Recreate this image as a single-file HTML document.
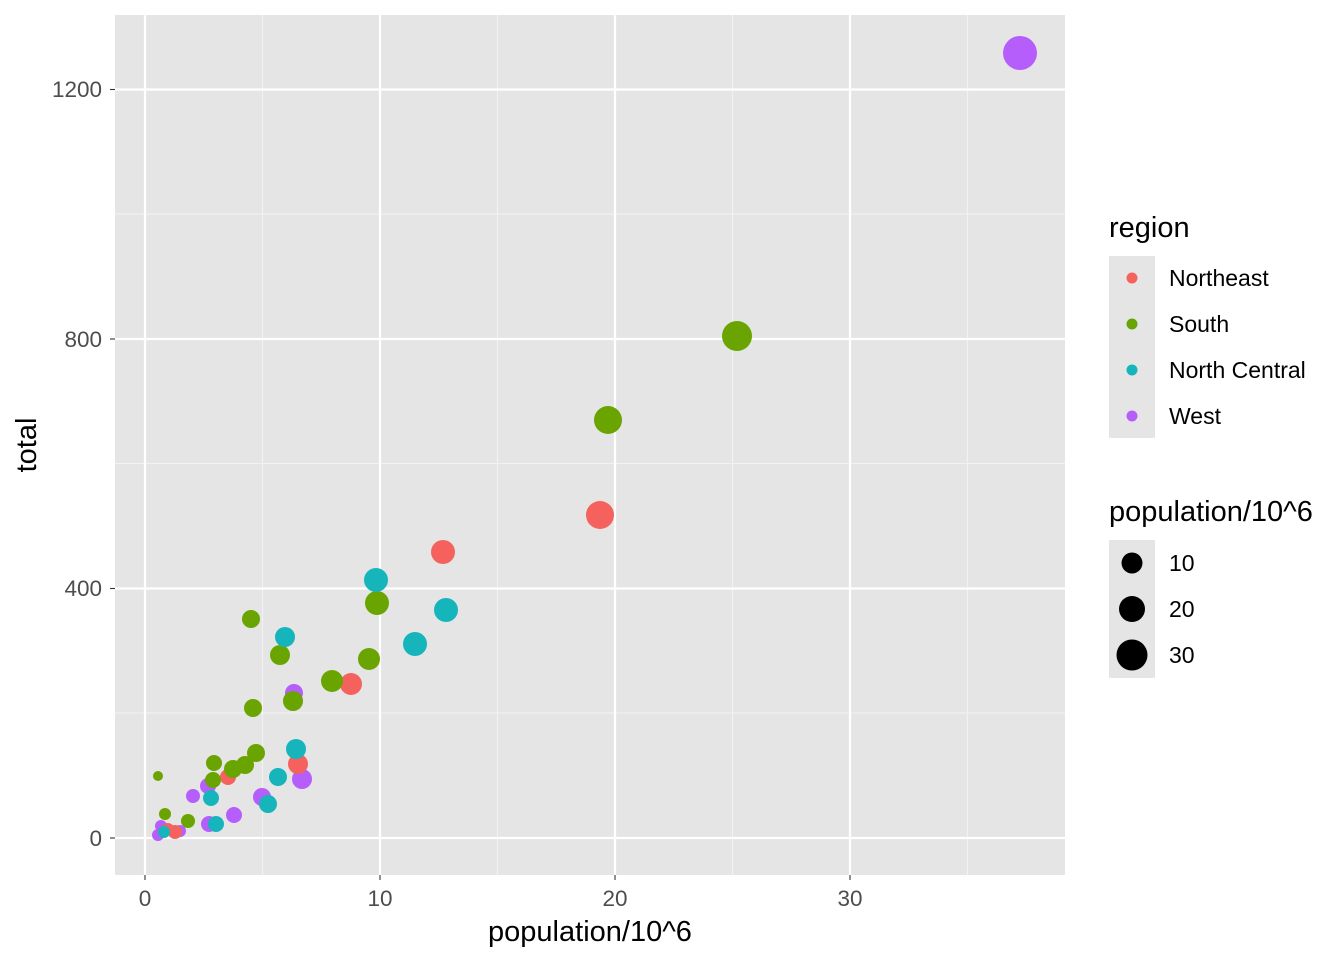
<!DOCTYPE html>
<html><head><style>body{margin:0;background:#fff}</style></head><body>
<svg width="1344" height="960" xmlns="http://www.w3.org/2000/svg" font-family="Liberation Sans, Arial, sans-serif">
<rect x="115" y="15" width="950" height="860" fill="#E5E5E5"/>
<g stroke="#F2F2F2" stroke-width="1.1">
<line x1="262.5" y1="15" x2="262.5" y2="875"/><line x1="497.5" y1="15" x2="497.5" y2="875"/><line x1="732.5" y1="15" x2="732.5" y2="875"/><line x1="967.5" y1="15" x2="967.5" y2="875"/>
<line x1="115" y1="713" x2="1065" y2="713"/><line x1="115" y1="463.5" x2="1065" y2="463.5"/><line x1="115" y1="214" x2="1065" y2="214"/>
</g>
<g stroke="#fff" stroke-width="2.2">
<line x1="145" y1="15" x2="145" y2="875"/><line x1="380" y1="15" x2="380" y2="875"/><line x1="615" y1="15" x2="615" y2="875"/><line x1="850" y1="15" x2="850" y2="875"/>
<line x1="115" y1="838" x2="1065" y2="838"/><line x1="115" y1="588.5" x2="1065" y2="588.5"/><line x1="115" y1="339" x2="1065" y2="339"/><line x1="115" y1="89.5" x2="1065" y2="89.5"/>
</g>
<g stroke="#333" stroke-width="1.1">
<line x1="145" y1="875" x2="145" y2="880"/><line x1="380" y1="875" x2="380" y2="880"/><line x1="615" y1="875" x2="615" y2="880"/><line x1="850" y1="875" x2="850" y2="880"/>
<line x1="110" y1="838" x2="115" y2="838"/><line x1="110" y1="588.5" x2="115" y2="588.5"/><line x1="110" y1="339" x2="115" y2="339"/><line x1="110" y1="89.5" x2="115" y2="89.5"/>
</g>
<g font-size="22.5" fill="#4D4D4D" text-anchor="middle">
<text x="145" y="906">0</text><text x="380" y="906">10</text><text x="615" y="906">20</text><text x="850" y="906">30</text>
</g>
<g font-size="22.5" fill="#4D4D4D" text-anchor="end">
<text x="102" y="846">0</text><text x="102" y="596">400</text><text x="102" y="347">800</text><text x="102" y="97">1200</text>
</g>
<text x="590" y="941" font-size="29" text-anchor="middle">population/10^6</text>
<text x="36" y="445" font-size="29" text-anchor="middle" transform="rotate(-90 36 445)">total</text>
<g fill="#B65EFB">
<circle cx="1020" cy="53" r="17"/><circle cx="294" cy="693" r="9"/><circle cx="302" cy="779" r="10"/><circle cx="262" cy="797" r="9"/><circle cx="234" cy="815" r="8"/><circle cx="209" cy="824" r="8"/><circle cx="208" cy="786" r="8"/><circle cx="193" cy="796" r="7"/><circle cx="180" cy="831" r="6"/><circle cx="161" cy="826" r="6"/><circle cx="158" cy="835" r="6"/>
</g>
<g fill="#F5625D">
<circle cx="600" cy="515" r="14"/><circle cx="443" cy="552" r="12"/><circle cx="351" cy="684" r="11"/><circle cx="298" cy="764" r="10"/><circle cx="228" cy="777" r="8"/><circle cx="175" cy="832" r="7"/><circle cx="168" cy="829" r="6"/>
</g>
<g fill="#6AA400">
<circle cx="737" cy="336" r="15"/><circle cx="608" cy="420" r="14"/><circle cx="377" cy="603" r="12"/><circle cx="369" cy="659" r="11"/><circle cx="332" cy="681" r="11"/><circle cx="293" cy="701" r="10"/><circle cx="280" cy="655" r="10"/><circle cx="251" cy="619" r="9"/><circle cx="253" cy="708" r="9"/><circle cx="256" cy="753" r="9"/><circle cx="245" cy="765" r="9"/><circle cx="233" cy="769" r="9"/><circle cx="214" cy="763" r="8"/><circle cx="213" cy="780" r="8"/><circle cx="188" cy="821" r="7"/><circle cx="165" cy="814" r="6"/><circle cx="158" cy="776" r="5"/>
</g>
<g fill="#15B5BB">
<circle cx="376" cy="580" r="12"/><circle cx="446" cy="610" r="12"/><circle cx="415" cy="644" r="12"/><circle cx="285" cy="637" r="10"/><circle cx="296" cy="749" r="10"/><circle cx="278" cy="777" r="9"/><circle cx="268" cy="804" r="9"/><circle cx="211" cy="798" r="8"/><circle cx="216" cy="824" r="8"/><circle cx="164" cy="832" r="6"/>
</g>
<text x="1109" y="237" font-size="29">region</text>
<rect x="1109" y="256" width="46" height="182" fill="#E5E5E5"/>
<circle cx="1132" cy="278" r="5.5" fill="#F5625D"/><circle cx="1132" cy="324" r="5.5" fill="#6AA400"/><circle cx="1132" cy="370" r="5.5" fill="#15B5BB"/><circle cx="1132" cy="416" r="5.5" fill="#B65EFB"/>
<g font-size="23"><text x="1169" y="286">Northeast</text><text x="1169" y="332">South</text><text x="1169" y="378">North Central</text><text x="1169" y="424">West</text></g>
<text x="1109" y="521" font-size="29">population/10^6</text>
<rect x="1109" y="540" width="46" height="138" fill="#E5E5E5"/>
<circle cx="1132" cy="563" r="10.5"/><circle cx="1132" cy="609" r="13"/><circle cx="1132" cy="655" r="15.5"/>
<g font-size="23"><text x="1169" y="571">10</text><text x="1169" y="617">20</text><text x="1169" y="663">30</text></g>
</svg>
</body></html>
